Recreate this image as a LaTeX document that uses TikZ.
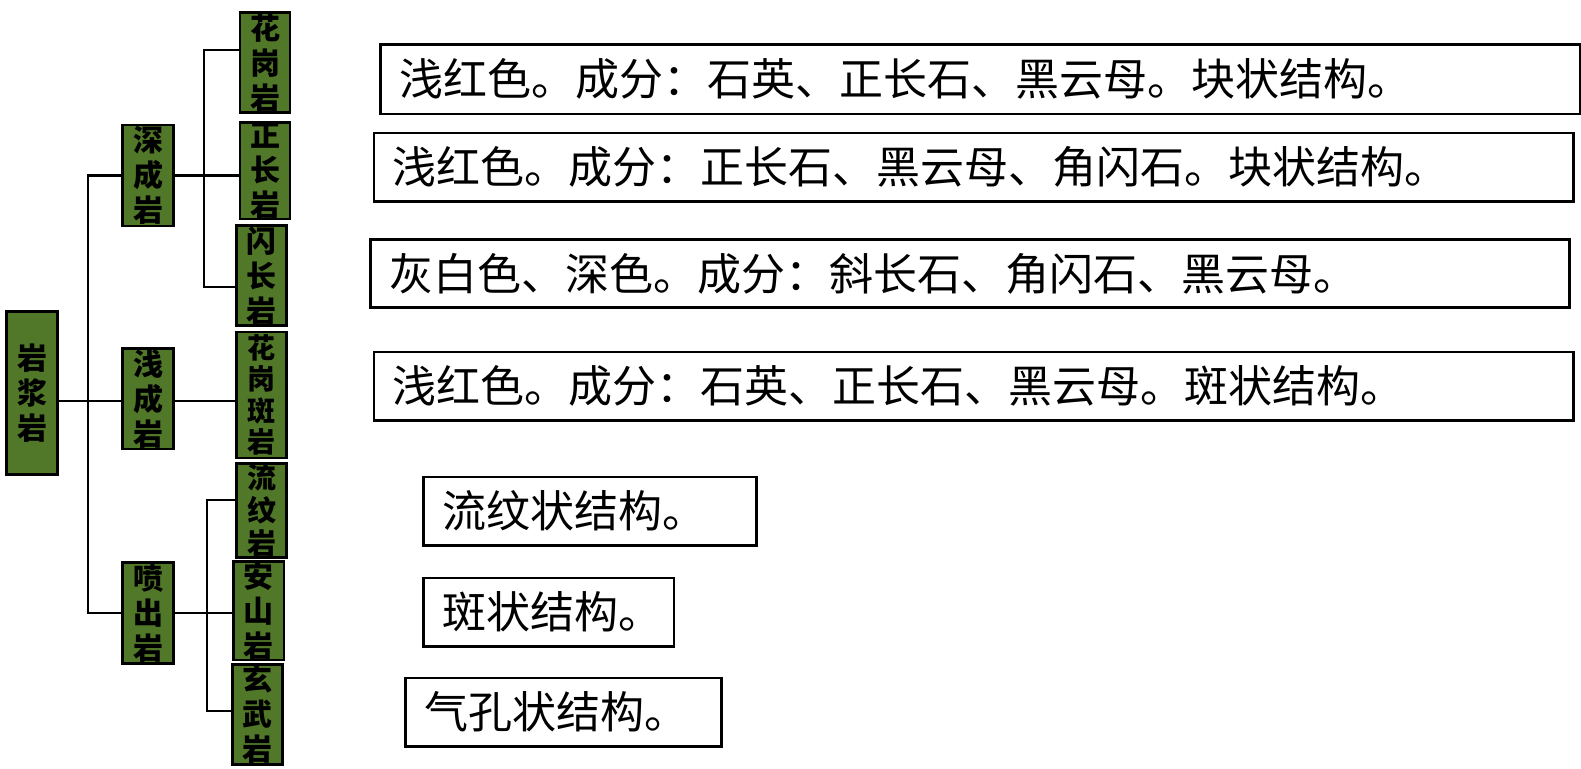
\documentclass[tikz,border=0pt]{standalone}
\usepackage{fontspec}
\newfontfamily\cjk{Noto Sans CJK SC}
\definecolor{rockgreen}{RGB}{80,120,40}
\begin{document}
\begin{tikzpicture}[x=1pt,y=-1pt,
  gbox/.style={draw=black, line width=2.5pt, fill=rockgreen, inner sep=0pt,
    font=\cjk\bfseries\fontsize{30}{35}\selectfont, align=center, text=black},
  tbox/.style={draw=black, line width=2.5pt, anchor=north west, inner xsep=19pt, inner ysep=0pt,
    font=\cjk\fontsize{44}{50}\selectfont, align=left},
  conn/.style={draw=black, line width=2.2pt}]
\useasboundingbox (0,0) rectangle (1581,768);
% tree boxes
\node[gbox, minimum width=50.6pt, minimum height=162.6pt] (yjy) at (32,393) {岩\\浆\\岩};
\node[gbox, minimum width=50.6pt, minimum height=101pt] (shen) at (148,175.5) {深\\成\\岩};
\node[gbox, minimum width=50.6pt, minimum height=100.7pt] (qian) at (148,398.7) {浅\\成\\岩};
\node[gbox, minimum width=50.6pt, minimum height=100.6pt] (pen) at (148,613) {喷\\出\\岩};
\node[gbox, minimum width=50pt, minimum height=100pt] (hua) at (265,62.7) {花\\岗\\岩};
\node[gbox, minimum width=50pt, minimum height=96.3pt] (zheng) at (265,170.8) {正\\长\\岩};
\node[gbox, minimum width=50pt, minimum height=100pt] (shan) at (261.7,275.7) {闪\\长\\岩};
\node[gbox, minimum width=50pt, minimum height=126pt, font=\cjk\bfseries\fontsize{28}{31.5}\selectfont] (huab) at (261.7,395) {花\\岗\\斑\\岩};
\node[gbox, minimum width=50pt, minimum height=94.4pt, font=\cjk\bfseries\fontsize{29}{33}\selectfont] (liu) at (261.7,510.5) {流\\纹\\岩};
\node[gbox, minimum width=50.7pt, minimum height=96.3pt] (an) at (258.7,610.8) {安\\山\\岩};
\node[gbox, minimum width=50pt, minimum height=100pt] (xuan) at (257.7,714.3) {玄\\武\\岩};
% connectors
\coordinate (trunk) at (88.3,0);
\coordinate (mid) at (0,401);
\draw[conn] (shen.west) -| (trunk |- pen.west) -- (pen.west);
\draw[conn] (yjy.east |- mid) -- (qian.west |- mid);
\draw[conn] (qian.east |- mid) -- (huab.west |- mid);
\coordinate (d1) at (204,50);
\coordinate (d2) at (204,286.7);
\draw[conn] (hua.west |- d1) -- (d1) -- (d2) -- (shan.west |- d2);
\draw[conn] (shen.east) -- (shen.east -| zheng.west);
\coordinate (e1) at (206.7,500);
\coordinate (e2) at (206.7,711);
\draw[conn] (liu.west |- e1) -- (e1) -- (e2) -- (xuan.west |- e2);
\draw[conn] (pen.east) -- (pen.east -| an.west);
% description boxes
\node[tbox, minimum height=69.4pt, text width=1161.7pt] (t1) at (379.3,43.3) {浅红色。成分：石英、正长石、黑云母。块状结构。};
\node[tbox, minimum height=68.3pt, text width=1161.6pt] (t2) at (372.7,131.7) {浅红色。成分：正长石、黑云母、角闪石。块状结构。};
\node[tbox, minimum height=67.7pt, text width=1161pt] (t3) at (369.3,238.3) {灰白色、深色。成分：斜长石、角闪石、黑云母。};
\node[tbox, minimum height=68.3pt, text width=1161.6pt] (t4) at (372.7,350.7) {浅红色。成分：石英、正长石、黑云母。斑状结构。};
\node[tbox, minimum height=68.3pt, text width=294.7pt] (t5) at (422.3,475.7) {流纹状结构。};
\node[tbox, minimum height=68.3pt, text width=212.4pt] (t6) at (422.3,576.7) {斑状结构。};
\node[tbox, minimum height=68.3pt, text width=278pt] (t7) at (404,676.7) {气孔状结构。};
\end{tikzpicture}
\end{document}
